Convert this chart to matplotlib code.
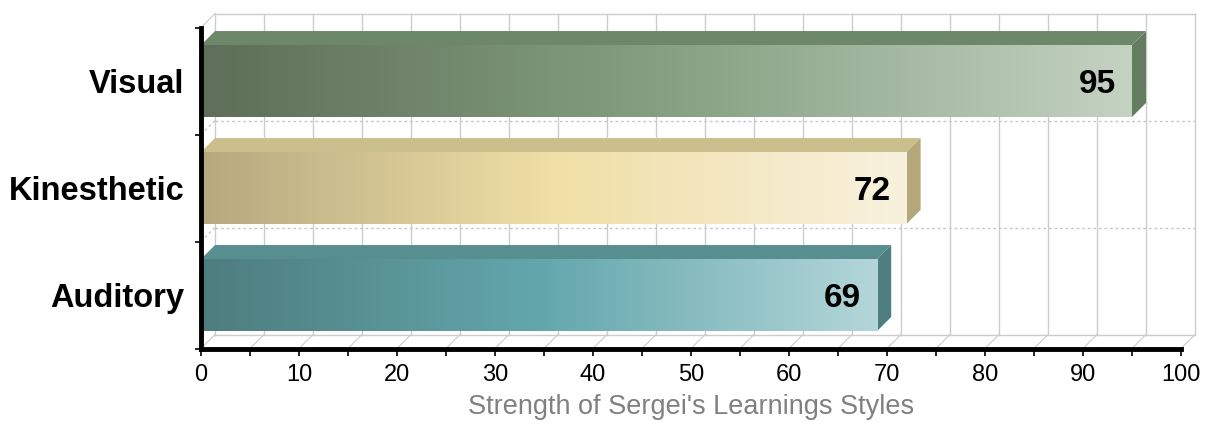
import numpy as np
import matplotlib
matplotlib.use('Agg')
import matplotlib.pyplot as plt
from matplotlib.patches import Polygon
from matplotlib.colors import LinearSegmentedColormap

# ---- data ----
categories = ['Auditory', 'Kinesthetic', 'Visual']
values = [69, 72, 95]
x_ticks = list(range(0, 101, 10))
x_title = "Strength of Sergei's Learnings Styles"

# ---- styles ----
front_stops = [0.0, 0.5, 1.0]
front_colors = [
    ['#4e7d7e', '#62a7ac', '#b4d6d9'],   # Auditory
    ['#b6a97f', '#f0dfa6', '#f8f1de'],   # Kinesthetic
    ['#5e6e58', '#85a082', '#c4d2c2'],   # Visual
]
top_colors = ['#578e90', '#cbbf8d', '#6d876b']
side_colors = ['#4e7e80', '#b4a87b', '#657c63']

W, H, DPI = 1210, 440, 100
fig = plt.figure(figsize=(W / DPI, H / DPI), dpi=DPI)
plt.rcParams['font.family'] = ['Liberation Sans', 'DejaVu Sans']

left_px, right_px = 201, 1181
top_px, bot_px = 27.5, 348.5
ax = fig.add_axes([left_px / W, 1 - bot_px / H, (right_px - left_px) / W, (bot_px - top_px) / H])
ax.set_xlim(0, 100)
ax.set_ylim(-0.5, len(categories) - 0.5)

px_x = (right_px - left_px) / 100.0
px_y = (bot_px - top_px) / len(categories)
depth = 14
dx = depth / px_x
dy = depth / px_y
ymin, ymax = -0.5, len(categories) - 0.5

grid_c = '#cccccc'
# back wall vertical lines (every 5)
for xv in np.arange(0, 100.1, 5):
    ax.plot([xv + dx, xv + dx], [ymin + dy, ymax + dy], color=grid_c, lw=1.0,
            clip_on=False, zorder=0.5)
    # floor diagonals
    ax.plot([xv, xv + dx], [ymin, ymin + dy], color=grid_c, lw=0.8,
            clip_on=False, zorder=0.5)
# back wall top & bottom
ax.plot([dx, 100 + dx], [ymax + dy, ymax + dy], color=grid_c, lw=1.0, clip_on=False, zorder=0.5)
ax.plot([dx, 100 + dx], [ymin + dy, ymin + dy], color=grid_c, lw=1.0, clip_on=False, zorder=0.5)
# left wall top diagonal
ax.plot([0, dx], [ymax, ymax + dy], color=grid_c, lw=0.8, clip_on=False, zorder=0.5)
# category separators (dotted)
for yb in np.arange(ymin + 1, ymax - 0.01, 1):
    ax.plot([dx, 100 + dx], [yb + dy, yb + dy], color='#c8c8c8', lw=1.0,
            ls=(0, (2, 2)), clip_on=False, zorder=0.5)
    ax.plot([0, dx], [yb, yb + dy], color='#c8c8c8', lw=1.0,
            ls=(0, (2, 2)), clip_on=False, zorder=0.5)

# bars
half = 0.336
for i, (cat, v) in enumerate(zip(categories, values)):
    cmap = LinearSegmentedColormap.from_list(cat, list(zip(front_stops, front_colors[i])))
    grad = np.linspace(0, 1, 512).reshape(1, -1)
    ax.imshow(grad, cmap=cmap, extent=(0, v, i - half, i + half), aspect='auto',
              interpolation='bilinear', zorder=3, clip_on=False)
    top = Polygon([(0, i + half), (dx, i + half + dy), (v + dx, i + half + dy), (v, i + half)],
                  closed=True, facecolor=top_colors[i], edgecolor='none', zorder=2.9, clip_on=False)
    side = Polygon([(v, i - half), (v, i + half), (v + dx, i + half + dy), (v + dx, i - half + dy)],
                   closed=True, facecolor=side_colors[i], edgecolor='none', zorder=2.9, clip_on=False)
    ax.add_patch(top)
    ax.add_patch(side)
    ax.text(v - 16 / px_x, i, str(v), ha='right', va='center_baseline', fontsize=24,
            fontweight='bold', color='black', zorder=5)

ax.set_xlim(0, 100)
ax.set_ylim(ymin, ymax)

# spines
for s in ['top', 'right']:
    ax.spines[s].set_visible(False)
for s in ['left', 'bottom']:
    ax.spines[s].set_linewidth(3.5)
    ax.spines[s].set_color('black')
    ax.spines[s].set_zorder(6)

ax.set_xticks(x_ticks)
ax.set_xticks(np.arange(0, 101, 5), minor=True)
ax.tick_params(axis='x', which='both', direction='out', length=5, width=1.2, color='black')
ax.tick_params(axis='x', which='major', labelsize=17, pad=6)
ax.set_yticks(range(len(categories)))
ax.set_yticklabels(categories, fontsize=23.5, fontweight='bold')
ax.set_yticks(np.arange(ymin, ymax + 0.01, 1), minor=True)
ax.tick_params(axis='y', which='major', length=0, pad=12)
ax.tick_params(axis='y', which='minor', direction='out', length=4, width=1.2, color='black')

ax.set_xlabel(x_title, fontsize=19.5, color='#808080', labelpad=6)
ax.patch.set_alpha(0)

fig.savefig('out.png', dpi=DPI)
